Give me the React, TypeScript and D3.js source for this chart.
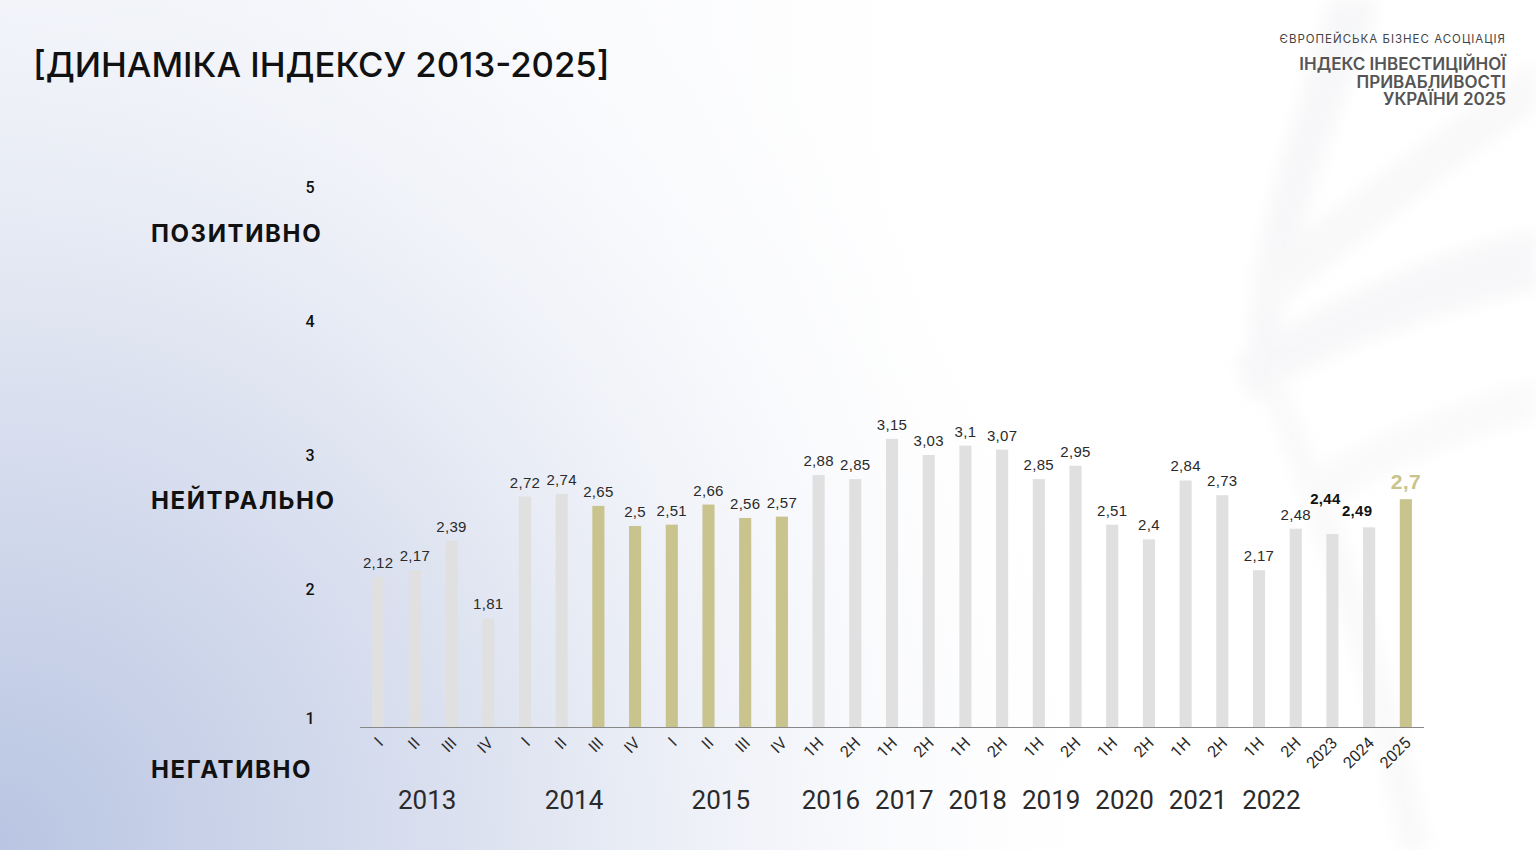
import * as d3 from "d3";

// period label under each bar
const periods = [
	"I", "II", "III", "IV",
	"I", "II", "III", "IV",
	"I", "II", "III", "IV",
	"1H", "2H", "1H", "2H", "1H", "2H", "1H", "2H",
	"1H", "2H", "1H", "2H", "1H", "2H",
	"2023", "2024", "2025",
];
// year each bar belongs to
const barYears = [
	"2013", "2013", "2013", "2013",
	"2014", "2014", "2014", "2014",
	"2015", "2015", "2015", "2015",
	"2016", "2016", "2017", "2017", "2018", "2018", "2019", "2019",
	"2020", "2020", "2021", "2021", "2022", "2022",
	"2023", "2024", "2025",
];
// index values
const values = [
	2.12, 2.17, 2.39, 1.81,
	2.72, 2.74, 2.65, 2.5,
	2.51, 2.66, 2.56, 2.57,
	2.88, 2.85, 3.15, 3.03, 3.1, 3.07, 2.85, 2.95,
	2.51, 2.4, 2.84, 2.73, 2.17, 2.48,
	2.44, 2.49, 2.7,
];
// bars drawn in gold
const goldBars = [6, 7, 8, 9, 10, 11, 28];
// years that get a label under the axis
const yearLabels = ["2013", "2014", "2015", "2016", "2017", "2018", "2019", "2020", "2021", "2022"];
const yTicks = [1, 2, 3, 4, 5];
const moodLabels = [
	{ text: "ПОЗИТИВНО", at: 4.67 },
	{ text: "НЕЙТРАЛЬНО", at: 2.68 },
	{ text: "НЕГАТИВНО", at: 0.67 },
];

const width = 1536;
const height = 850;
const gray = "#e0e0e0";
const gold = "#c9c38d";
const textColor = "#2a2a2a";

const data = values.map((v, i) => ({
	key: String(i),
	period: periods[i],
	year: barYears[i],
	value: v,
	gold: goldBars.includes(i),
}));

const xScale = d3
	.scaleBand()
	.domain(data.map((d) => d.key))
	.range([360, 1424])
	.paddingInner(0.67)
	.paddingOuter(0.33);

const yScale = d3.scaleLinear().domain([1, 5]).range([727, 191]);

const fmt = (v: number) => String(v).replace(".", ",");

const center = (d: { key: string }) => (xScale(d.key) ?? 0) + xScale.bandwidth() / 2;

export default function App() {
	const last = data.length - 1;
	return (
		<svg
			width={width}
			height={height}
			style={{ position: "fixed", left: 0, top: 0 }}
			fontFamily="Roboto, 'Liberation Sans', sans-serif"
		>
			<defs>
				<radialGradient id="bgBlue" cx="0" cy="1" r="0.75" gradientTransform="scale(1,1.8) translate(0,-0.45)">
					<stop offset="0" stopColor="#b9c5e2" />
					<stop offset="0.45" stopColor="#dfe4f1" />
					<stop offset="1" stopColor="#ffffff" stopOpacity="0" />
				</radialGradient>
				<linearGradient id="bgTop" x1="0" y1="0" x2="1" y2="0">
					<stop offset="0" stopColor="#f3f5fa" />
					<stop offset="0.6" stopColor="#ffffff" />
				</linearGradient>
				<filter id="soft">
					<feGaussianBlur stdDeviation="8" />
				</filter>
			</defs>
			<rect width={width} height={height} fill="url(#bgTop)" />
			<rect width={width} height={height} fill="url(#bgBlue)" />

			{/* faint ribbons in the background */}
			<g filter="url(#soft)" opacity={0.3}>
				<path d="M1330,0 C1290,140 1240,260 1250,400 L1275,395 C1275,270 1330,140 1380,0 Z" fill="#e4e5ea" />
				<path d="M1236,360 C1320,300 1440,250 1536,230 L1536,290 C1440,310 1330,350 1250,400 Z" fill="#e6e6ec" />
				<path d="M1250,270 C1350,200 1450,120 1536,60 L1536,110 C1450,170 1350,250 1262,320 Z" fill="#eaeaee" />
				<path d="M1260,380 C1300,500 1350,600 1400,850 L1430,850 C1380,600 1320,480 1280,370 Z" fill="#ececf0" />
				<path d="M1300,480 C1380,430 1460,400 1536,380 L1536,420 C1460,440 1380,470 1310,520 Z" fill="#eeeef1" />
			</g>

			{/* title */}
			<text x={33} y={77} fontFamily="Inter, sans-serif" fontWeight={500} fontSize={34.7} fill="#111">
				[ДИНАМІКА ІНДЕКСУ 2013-2025]
			</text>

			{/* header on the right */}
			<g textAnchor="end" fontFamily="Inter, sans-serif">
				<text x={1506} y={43} fontSize={11.5} letterSpacing={1} fill="#444">
					ЄВРОПЕЙСЬКА БІЗНЕС АСОЦІАЦІЯ
				</text>
				<g fontSize={17} fontWeight={600} fill="#555">
					<text x={1506} y={70}>ІНДЕКС ІНВЕСТИЦІЙНОЇ</text>
					<text x={1506} y={88}>ПРИВАБЛИВОСТІ</text>
					<text x={1506} y={105}>УКРАЇНИ 2025</text>
				</g>
			</g>

			{/* y tick numbers */}
			<g fontSize={16} fontWeight={500} fill="#111" textAnchor="middle">
				{yTicks.map((t) => (
					<text key={t} x={310} y={yScale(t) + (t === 1 ? -3 : 2)}>
						{t}
					</text>
				))}
			</g>

			{/* mood labels */}
			<g fontFamily="Inter, sans-serif" fontWeight={700} fontSize={24} letterSpacing={1.6} fill="#111">
				{moodLabels.map((m) => (
					<text key={m.text} x={151} y={yScale(m.at) + 7}>
						{m.text}
					</text>
				))}
			</g>

			{/* bars */}
			<g>
				{data.map((d) => (
					<rect
						key={d.key}
						x={xScale(d.key)}
						y={yScale(d.value)}
						width={xScale.bandwidth()}
						height={yScale(1) - yScale(d.value)}
						fill={d.gold ? gold : gray}
					/>
				))}
			</g>

			{/* axis line */}
			<line x1={360} x2={1424} y1={yScale(1) + 0.5} y2={yScale(1) + 0.5} stroke="#888" strokeWidth={1.2} />

			{/* value labels */}
			<g fontFamily="'Liberation Sans', Arial, sans-serif" fontSize={15} letterSpacing={0.3} fill={textColor} textAnchor="middle">
				{data.map((d, i) => {
					if (i === last) return null;
					const bold = i === 26 || i === 27;
					const dx = i === 26 ? -7 : i === 27 ? -12 : 0;
					const dy = i === 26 ? -21 : i === 27 ? -2 : 0;
					return (
						<text
							key={d.key}
							x={center(d) + dx}
							y={yScale(d.value) - 9 + dy}
							fontWeight={bold ? 700 : 400}
							fill={bold ? "#111" : textColor}
						>
							{fmt(d.value)}
						</text>
					);
				})}
				<text
					x={center(data[last])}
					y={yScale(data[last].value) - 10}
					fontSize={21}
					fontWeight={700}
					fill={gold}
				>
					{fmt(data[last].value)}
				</text>
			</g>

			{/* rotated period labels */}
			<g fontSize={16} fill={textColor} textAnchor="end">
				{data.map((d) => (
					<text key={d.key} transform={`translate(${center(d) + 6},${yScale(1) + 17}) rotate(-45)`}>
						{d.period}
					</text>
				))}
			</g>

			{/* year labels */}
			<g fontSize={26} fill={textColor} textAnchor="middle">
				{yearLabels.map((y) => {
					const bars = data.filter((d) => d.year === y);
					const cx = d3.mean(bars, center) ?? 0;
					return (
						<text key={y} x={cx - 6} y={809}>
							{y}
						</text>
					);
				})}
			</g>
		</svg>
	);
}
